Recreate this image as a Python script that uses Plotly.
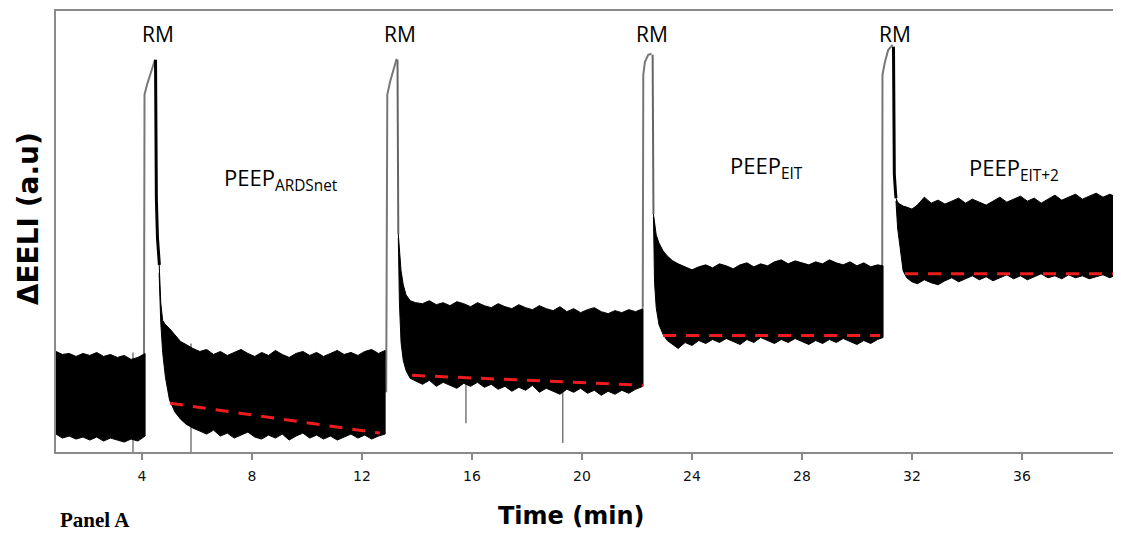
import plotly.graph_objects as go

# ---------------- data (time in min, ΔEELI in a.u.) ----------------
tick_vals = [4, 8, 12, 16, 20, 24, 28, 32, 36]

# baseline band (before first RM)
b0_x = [0.87, 1.1, 1.35, 1.6, 1.85, 2.1, 2.35, 2.6, 2.85, 3.1, 3.35, 3.6, 3.85, 4.11]
b0_up = [101, 98, 99, 96, 99, 97, 100, 96, 98, 95, 97, 93, 95, 99]
b0_lo = [18, 14, 16, 13, 15, 12, 15, 11, 14, 12, 10, 13, 11, 16]

# PEEP ARDSnet band
b1_x = [4.62, 4.68, 4.75, 4.85, 5.0, 5.2, 5.4, 5.6, 5.85, 6.1, 6.35, 6.6, 6.85, 7.1, 7.35,
        7.6, 7.85, 8.1, 8.35, 8.6, 8.85, 9.1, 9.35, 9.6, 9.85, 10.1, 10.35, 10.6, 10.85,
        11.1, 11.35, 11.6, 11.85, 12.1, 12.35, 12.6, 12.84]
b1_up = [190, 150, 132, 128, 124, 117, 111, 108, 104, 101, 103, 98, 101, 97, 100, 103, 99,
         96, 100, 97, 102, 98, 95, 99, 101, 97, 100, 96, 99, 102, 98, 100, 97, 101, 103, 99, 102]
b1_lo = [180, 130, 100, 75, 52, 40, 33, 28, 24, 21, 18, 22, 16, 19, 14, 17, 20, 15, 13, 17,
         14, 18, 12, 16, 19, 14, 17, 13, 16, 12, 15, 18, 14, 17, 13, 16, 18]

# second band (after RM 2)
b2_x = [13.32, 13.36, 13.42, 13.5, 13.6, 13.75, 13.95, 14.2, 14.45, 14.7, 14.95, 15.2, 15.45,
        15.7, 15.95, 16.2, 16.45, 16.7, 16.95, 17.2, 17.45, 17.7, 17.95, 18.2, 18.45, 18.7,
        18.95, 19.2, 19.45, 19.7, 19.95, 20.2, 20.45, 20.7, 20.95, 21.2, 21.45, 21.7, 21.95, 22.22]
b2_up = [219, 200, 182, 168, 158, 152, 150, 149, 152, 148, 150, 147, 151, 149, 146, 150, 147,
         145, 149, 146, 144, 148, 145, 143, 147, 144, 142, 146, 141, 144, 140, 143, 145, 141,
         139, 142, 140, 143, 141, 144]
b2_lo = [215, 150, 110, 92, 82, 74, 71, 68, 72, 66, 70, 67, 64, 69, 66, 70, 65, 68, 63, 66,
         61, 65, 62, 67, 60, 64, 61, 58, 63, 60, 64, 59, 62, 57, 61, 58, 62, 59, 63, 66]

# PEEP EIT band
b3_x = [22.6, 22.64, 22.7, 22.8, 22.95, 23.1, 23.3, 23.5, 23.75, 24.0, 24.25, 24.5, 24.75,
        25.0, 25.25, 25.5, 25.75, 26.0, 26.25, 26.5, 26.75, 27.0, 27.25, 27.5, 27.75, 28.0,
        28.25, 28.5, 28.75, 29.0, 29.25, 29.5, 29.75, 30.0, 30.25, 30.5, 30.75, 30.95]
b3_up = [239, 228, 218, 210, 202, 197, 192, 189, 186, 183, 186, 188, 185, 189, 187, 184, 188,
         190, 186, 189, 187, 191, 193, 189, 192, 190, 188, 191, 189, 193, 190, 188, 191, 187,
         190, 186, 188, 187]
b3_lo = [236, 170, 145, 128, 118, 112, 108, 104, 110, 107, 112, 109, 113, 110, 114, 111, 108,
         113, 110, 115, 112, 109, 113, 110, 114, 111, 108, 112, 109, 113, 110, 114, 111, 108,
         112, 109, 113, 115]

# PEEP EIT+2 band
b4_x = [31.42, 31.48, 31.56, 31.68, 31.81, 32.0, 32.2, 32.45, 32.7, 32.95, 33.2, 33.45, 33.7,
        33.95, 34.2, 34.45, 34.7, 34.95, 35.2, 35.45, 35.7, 35.95, 36.2, 36.45, 36.7, 36.95,
        37.2, 37.45, 37.7, 37.95, 38.2, 38.45, 38.7, 38.95, 39.2, 39.35]
b4_up = [255, 251, 249, 247, 246, 244, 248, 256, 250, 253, 249, 252, 255, 250, 254, 251, 248,
         252, 256, 251, 254, 257, 252, 255, 250, 254, 258, 253, 256, 259, 254, 257, 260, 256,
         259, 257]
b4_lo = [252, 225, 205, 182, 175, 171, 169, 173, 170, 168, 172, 175, 171, 174, 177, 173, 176,
         172, 175, 178, 174, 177, 173, 176, 179, 175, 177, 174, 178, 175, 177, 174, 176, 178,
         175, 177]

# recruitment manoeuvres: rise (inflation) and fall (deflation)
rm1_up_x = [4.07, 4.09, 4.18, 4.33, 4.47]
rm1_up_y = [95, 359, 369, 382, 394]
rm1_dn_x = [4.49, 4.52, 4.56, 4.6, 4.63]
rm1_dn_y = [394, 255, 215, 198, 188]
rm2_up_x = [12.88, 12.92, 13.02, 13.14, 13.26]
rm2_up_y = [60, 359, 372, 385, 395]
rm2_dn_x = [13.29, 13.31, 13.32]
rm2_dn_y = [394, 240, 219]
rm3_up_x = [22.21, 22.23, 22.29, 22.41, 22.53]
rm3_up_y = [145, 379, 392, 399, 400]
rm3_dn_x = [22.57, 22.59, 22.6]
rm3_dn_y = [399, 250, 239]
rm4_up_x = [30.92, 30.93, 31.02, 31.14, 31.30]
rm4_up_y = [185, 379, 392, 404, 409]
rm4_dn_x = [31.33, 31.36, 31.40, 31.42]
rm4_dn_y = [407, 279, 262, 255]

# artefact spikes
spike_x = [3.67, 5.78, 15.78, 19.3]
spike_top = [100, 109, 70, 65]
spike_bot = [0, 0, 29, 9]

# end-expiratory trend lines (red dashed)
trend_x = [[5.02, 12.65], [13.82, 22.22], [22.95, 30.84], [31.75, 39.35]]
trend_y = [[49, 19], [77, 67], [117, 117], [179, 179]]

rm_x = [4.58, 13.38, 22.55, 31.38]
rm_label = ["RM", "RM", "RM", "RM"]
peep_x = [6.91, 25.31, 34.0]
peep_y = [274, 286, 284]
peep_label = ["PEEP<sub>ARDSnet</sub>", "PEEP<sub>EIT</sub>", "PEEP<sub>EIT+2</sub>"]

GRAY = "#8a8a8a"
fig = go.Figure()

for sx, st, sb in zip(spike_x, spike_top, spike_bot):
    fig.add_trace(go.Scatter(x=[sx, sx], y=[st, sb], mode="lines",
                             line=dict(color="#7a7a7a", width=1.5), hoverinfo="skip"))

for ux, uy in [(rm1_up_x, rm1_up_y), (rm2_up_x, rm2_up_y), (rm3_up_x, rm3_up_y), (rm4_up_x, rm4_up_y)]:
    fig.add_trace(go.Scatter(x=ux, y=uy, mode="lines",
                             line=dict(color="#777777", width=2), hoverinfo="skip"))
for dx, dy, c, w in [(rm1_dn_x, rm1_dn_y, "black", 3), (rm2_dn_x, rm2_dn_y, "#666666", 2),
                     (rm3_dn_x, rm3_dn_y, "#666666", 2), (rm4_dn_x, rm4_dn_y, "black", 3)]:
    fig.add_trace(go.Scatter(x=dx, y=dy, mode="lines",
                             line=dict(color=c, width=w), hoverinfo="skip"))

for bx, bu, bl in [(b0_x, b0_up, b0_lo), (b1_x, b1_up, b1_lo), (b2_x, b2_up, b2_lo),
                   (b3_x, b3_up, b3_lo), (b4_x, b4_up, b4_lo)]:
    fig.add_trace(go.Scatter(x=bx + bx[::-1], y=bu + bl[::-1], mode="lines",
                             fill="toself", fillcolor="black",
                             line=dict(color="black", width=1), hoverinfo="skip"))

for tx, ty in zip(trend_x, trend_y):
    fig.add_trace(go.Scatter(x=tx, y=ty, mode="lines",
                             line=dict(color="#ee1c1c", width=3, dash="13px,10px"),
                             hoverinfo="skip"))

annotations = []
for x, t in zip(rm_x, rm_label):
    annotations.append(dict(x=x, y=420, xref="x", yref="y", text=t, showarrow=False,
                            font=dict(family="Open Sans", size=21, color="black")))
for x, y, t in zip(peep_x, peep_y, peep_label):
    annotations.append(dict(x=x, y=y, xref="x", yref="y", text=t, showarrow=False,
                            xanchor="left", yanchor="middle",
                            font=dict(family="Open Sans", size=22, color="black")))
annotations.append(dict(x=-0.0265, y=0.53, xref="paper", yref="paper", text="ΔEELI (a.u)",
                        textangle=-90, showarrow=False, xanchor="center", yanchor="middle",
                        font=dict(family="DejaVu Sans", size=28, color="black", weight="bold")))
annotations.append(dict(x=0.487, y=-0.1445, xref="paper", yref="paper", text="Time (min)",
                        showarrow=False, xanchor="center", yanchor="middle",
                        font=dict(family="DejaVu Sans", size=24, color="black", weight="bold")))
annotations.append(dict(x=0.002, y=-0.1865, xref="paper", yref="paper", text="<b>Panel A</b>",
                        showarrow=False, xanchor="left", yanchor="bottom",
                        font=dict(family="Liberation Serif", size=21, color="black")))

# the page body has an 8px margin, so the figure is sized/offset to compensate
fig.update_layout(
    width=1113, height=527,
    margin=dict(l=48, r=7, t=1, b=83),
    paper_bgcolor="white", plot_bgcolor="white",
    showlegend=False,
    annotations=annotations,
    xaxis=dict(range=[0.87, 39.35], tickvals=tick_vals, ticks="outside", ticklen=6,
               tickcolor=GRAY, tickwidth=2, showline=True, linecolor=GRAY, linewidth=2,
               mirror=True, showgrid=False, zeroline=False, ticklabelstandoff=4,
               tickfont=dict(family="DejaVu Sans", size=14, color="#111111")),
    yaxis=dict(range=[0, 443], showticklabels=False, ticks="", showline=True,
               linecolor=GRAY, linewidth=2, mirror=True, showgrid=False, zeroline=False),
)

fig.write_html("out.html")
